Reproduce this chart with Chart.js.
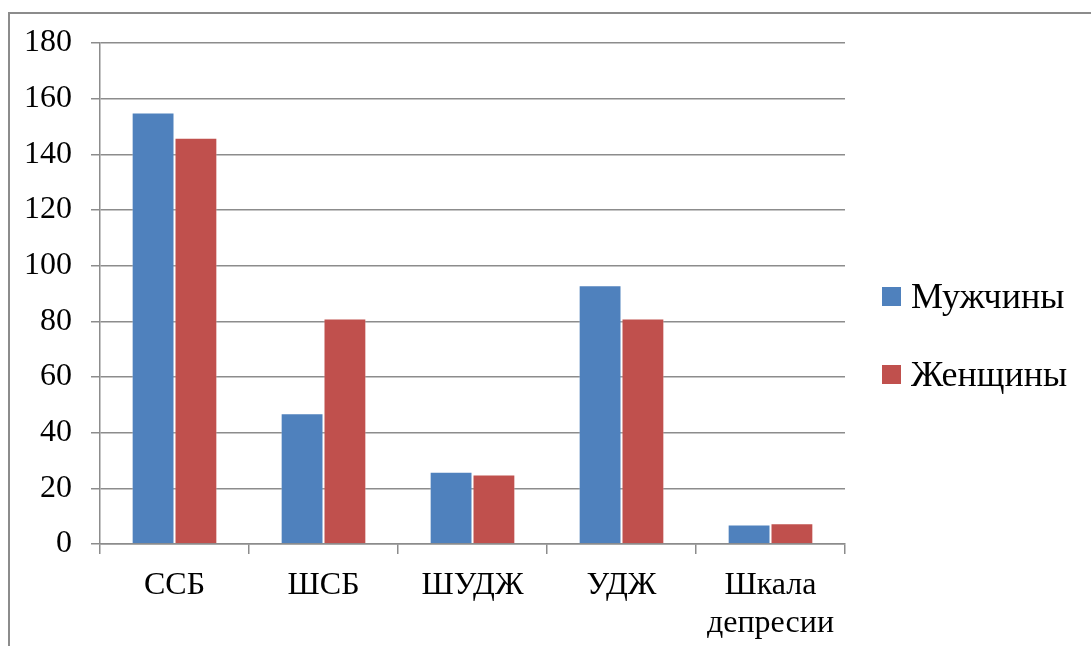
<!DOCTYPE html>
<html>
<head>
<meta charset="utf-8">
<script src="https://cdn.jsdelivr.net/npm/chart.js@4/dist/chart.umd.min.js"></script>
<style>
  html, body { margin: 0; padding: 0; background: #fff; overflow: hidden; }
  #wrap { position: relative; width: 1091px; height: 646px; }
  #frame {
    position: absolute; left: 8px; top: 12px; width: 1200px; height: 800px;
    border-top: 2px solid #8c8c8c; border-left: 2px solid #8c8c8c;
  }
  canvas { position: absolute; left: 0; top: 0; }
  .legend { position: absolute; left: 882px; font-family: "Liberation Serif", "Times New Roman", serif; font-size: 36px; color: #000; }
  .legend .item { position: absolute; left: 0; white-space: nowrap; height: 40px; line-height: 40px; }
  .legend .sw { position: absolute; left: 0; top: 11px; width: 19px; height: 19px; }
  .legend .lbl { position: absolute; left: 29px; top: 0; }
</style>
</head>
<body>
<div id="wrap">
  <div id="frame"></div>
  <canvas id="c" width="1091" height="646"></canvas>
  <div class="legend" id="legend"></div>
</div>
<script>
// Scale names and the two groups compared
const categories = ["ССБ", "ШСБ", "ШУДЖ", "УДЖ", ["Шкала", "депресии"]];
const seriesNames = ["Мужчины", "Женщины"];
const men   = [155, 47, 26, 93, 7];
const women = [146, 81, 25, 81, 7.5];
const yTicks = [0, 20, 40, 60, 80, 100, 120, 140, 160, 180];

const colors = ["#4F81BD", "#C0504D"];
const gridColor = "#8c8c8c";
const axisFont = { family: "'Liberation Serif', 'Times New Roman', serif", size: 32, lineHeight: 1.2 };

const chart = new Chart(document.getElementById("c"), {
  type: "bar",
  data: {
    labels: categories,
    datasets: [
      { label: seriesNames[0], data: men, backgroundColor: colors[0], borderColor: "rgba(255,255,255,0.35)", borderWidth: 1 },
      { label: seriesNames[1], data: women, backgroundColor: colors[1], borderColor: "rgba(255,255,255,0.35)", borderWidth: 1 }
    ]
  },
  options: {
    responsive: false,
    animation: false,
    devicePixelRatio: 1,
    layout: { padding: { left: 0, top: 43, right: 246, bottom: 0 } },
    plugins: { legend: { display: false }, tooltip: { enabled: false } },
    datasets: { bar: { categoryPercentage: 0.575, barPercentage: 1.0 } },
    scales: {
      x: {
        afterFit: s => { s.height = 102; },
        grid: { offset: true, drawOnChartArea: false, drawTicks: true, tickLength: 10, color: gridColor, lineWidth: 1.5 },
        border: { display: true, color: gridColor, width: 1.5 },
        ticks: { color: "#000", font: axisFont, padding: 12, maxRotation: 0, autoSkip: false }
      },
      y: {
        min: 0, max: 180,
        afterFit: s => { s.width = 100; },
        afterBuildTicks: s => { s.ticks = yTicks.map(v => ({ value: v })); },
        grid: { color: gridColor, lineWidth: 1.5, tickLength: 9, drawTicks: true },
        border: { display: true, color: gridColor, width: 1.5 },
        ticks: { color: "#000", font: { family: axisFont.family, size: 32 }, padding: 19 }
      }
    }
  }
});

// Legend drawn as text next to the plot
const legend = document.getElementById("legend");
const legendTops = [276, 354];
seriesNames.forEach((name, i) => {
  const item = document.createElement("div");
  item.className = "item";
  item.style.top = legendTops[i] + "px";
  item.innerHTML = '<span class="sw" style="background:' + colors[i] + '"></span><span class="lbl">' + name + '</span>';
  legend.appendChild(item);
});
</script>
</body>
</html>
